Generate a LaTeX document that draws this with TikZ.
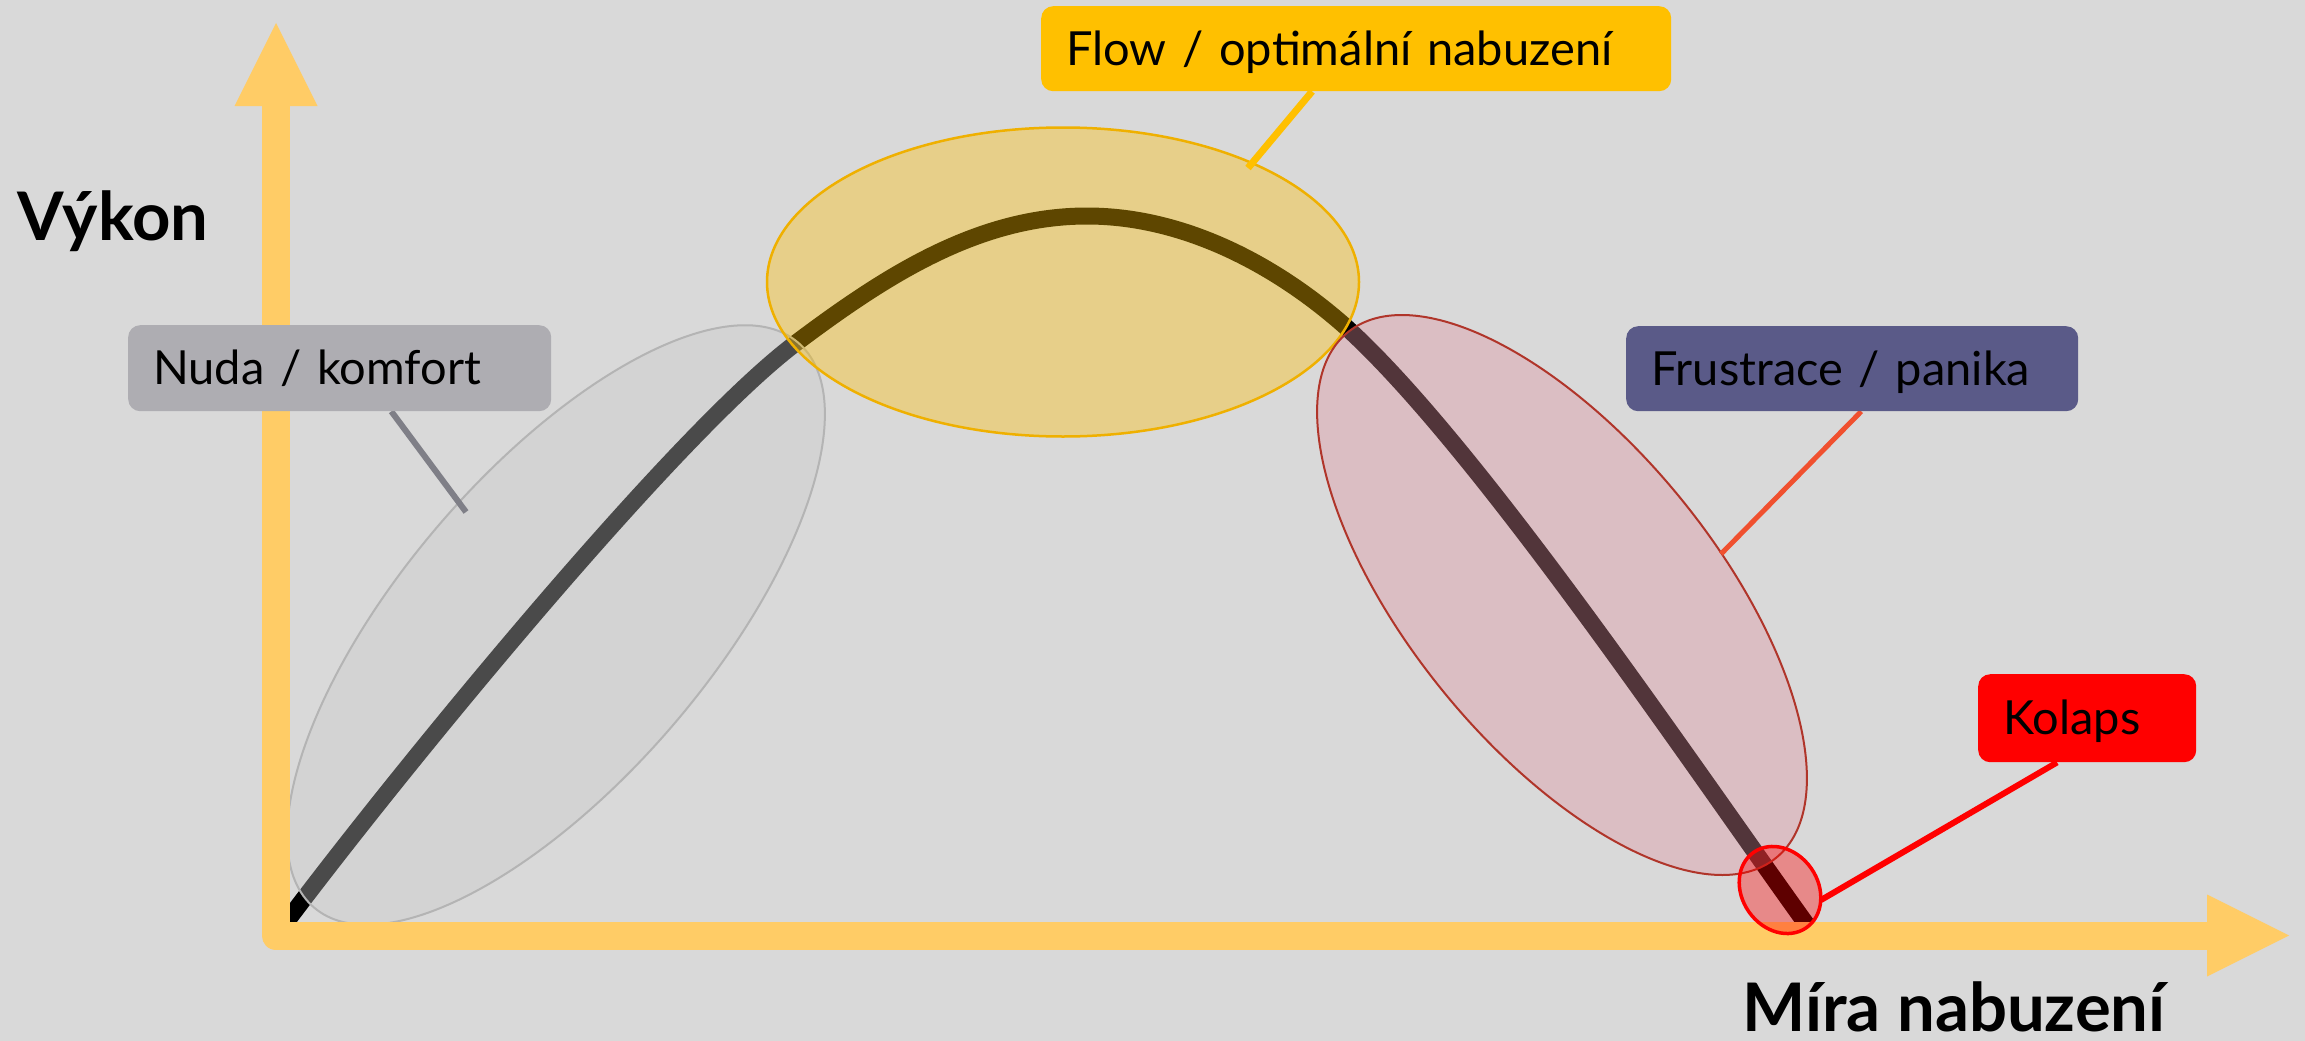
\documentclass[tikz,border=0pt]{standalone}
\usepackage{fontspec}
\setmainfont{Lato}
\usetikzlibrary{calc}
\definecolor{bgc}{HTML}{D9D9D9}
\definecolor{axisc}{HTML}{FFCC66}
\definecolor{nudac}{HTML}{AEADB2}
\definecolor{nudaline}{HTML}{7F7F87}
\definecolor{flowc}{HTML}{FFC000}
\definecolor{flowedge}{HTML}{EFB000}
\definecolor{frusc}{HTML}{5A5A88}
\definecolor{frusline}{HTML}{F0502F}
\definecolor{pinkc}{HTML}{E1929E}
\definecolor{pinkedge}{HTML}{B0352A}
\definecolor{grayzone}{HTML}{C9C9C9}
\definecolor{grayedge}{HTML}{B4B4B4}
\definecolor{kolc}{HTML}{FF0000}
\pgfdeclarelayer{front}
\pgfsetlayers{main,front}
\begin{document}
\begin{tikzpicture}[x=1pt,y=-1pt,
  lbl/.style={rounded corners=12pt, inner xsep=25pt, inner ysep=0pt,
    text height=33pt, text depth=0pt, anchor=north west, align=left,
    font=\fontsize{47}{50}\selectfont, text=black},
  ttl/.style={anchor=base, inner sep=0pt, font=\fontsize{67}{70}\selectfont\bfseries, text=black},
  lead/.style={line width=6pt},
  zone/.style={fill opacity=0.37}]
\useasboundingbox (0,0) rectangle (2305,1041);
\fill[bgc] (0,0) rectangle (2305,1041);

% curve
\coordinate (cS) at (284,925);
\coordinate (cM) at (796,343);
\coordinate (cP) at (1087,216);
\coordinate (cN) at (1347,328);
\coordinate (cE) at (1812,932);
\draw[black, line width=17pt]
  (cS) .. controls (404,765) and (676,433) .. (cM)
       .. controls (884,277) and (977,216) .. (cP)
       .. controls (1187,216) and (1280,268) .. (cN)
       .. controls (1480,449) and (1695,770) .. (cE);

% zones
\draw[grayedge, line width=2pt, fill=grayzone, zone] (556,625) ellipse [x radius=372, y radius=154, rotate=49.4];
\draw[flowedge, line width=2.5pt, fill=flowc, zone] (1063,282) ellipse [x radius=296, y radius=154.5];
\draw[pinkedge, line width=2pt, fill=pinkc, zone] (1562,595) ellipse [x radius=339, y radius=153, rotate=-50.8];

% axes
\coordinate (ytip) at (276,23);
\coordinate (O) at (275.5,935.5);
\coordinate (xtip) at (2289,935.5);
\draw[axisc, line width=28pt, line join=round] (275.5,106) -- (O) -- (2208,935.5);
\fill[axisc] (ytip) -- (234.5,106) -- (317.5,106) -- cycle;
\fill[axisc] (xtip) -- (2207,894.5) -- (2207,976.5) -- cycle;

% collapse zone
\draw[kolc, line width=3.5pt, fill=kolc, zone] (1780,890) ellipse [x radius=46, y radius=38, rotate=-55];

% leader ends
\coordinate (nudaE) at (466,512);
\coordinate (flowE) at (1248,168);
\coordinate (frusE) at (1721,554);
\coordinate (kolE) at (1821,900);

% boxes
\begin{pgfonlayer}{front}
\node[lbl, fill=nudac, text width=373pt, minimum height=86pt] (nuda) at (128,325) {Nuda / komfort};
\node[lbl, fill=flowc, text width=580pt, minimum height=85pt] (flow) at (1041,6) {Flow / optimální nabuzení};
\node[lbl, fill=frusc, text width=402pt, minimum height=85pt] (frus) at (1626,326) {Frustrace / panika};
\node[lbl, fill=kolc, text width=168pt, minimum height=88pt] (kol) at (1978,674) {Kolaps};
\end{pgfonlayer}

% leaders
\draw[lead, nudaline] ($(nuda.south west)!0.622!(nuda.south east)$) -- (nudaE);
\draw[lead, flowc, line width=7pt] ($(flow.south west)!0.43!(flow.south east)$) -- (flowE);
\draw[lead, frusline, line width=5pt] ($(frus.south west)!0.52!(frus.south east)$) -- (frusE);
\draw[lead, kolc] ($(kol.south west)!0.362!(kol.south east)$) -- (kolE);

% axis titles
\node[ttl] (vykon) at (113,240) {Výkon};
\node[ttl] (mira) at (1954,1031) {Míra nabuzení};
\end{tikzpicture}
\end{document}
